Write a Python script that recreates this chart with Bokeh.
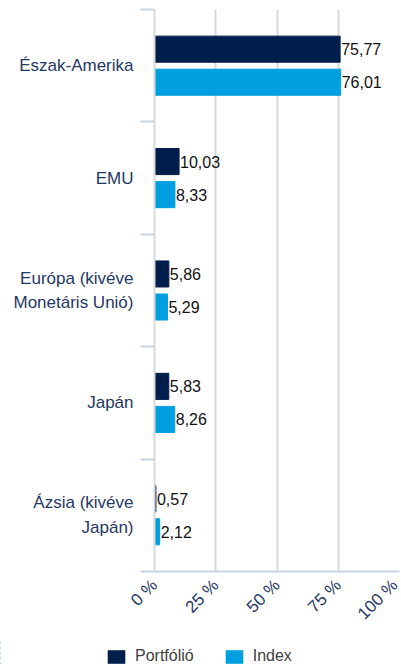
from math import pi
from bokeh.plotting import figure
from bokeh.layouts import column
from bokeh.models import ColumnDataSource, FixedTicker, Legend, LegendItem
from bokeh.transform import dodge
from bokeh.core.properties import value
from bokeh.embed import file_html
from bokeh.resources import INLINE

categories = ["Észak-Amerika", "EMU", "Európa (kivéve\nMonetáris Unió)", "Japán", "Ázsia (kivéve\nJapán)"]
portfolio = [75.77, 10.03, 5.86, 5.83, 0.57]
index_vals = [76.01, 8.33, 5.29, 8.26, 2.12]
series_names = ["Portfólió", "Index"]
x_ticks = [0, 25, 50, 75, 100]
x_tick_labels = ["0 %", "25 %", "50 %", "75 %", "100 %"]

n = len(categories)
pos = [n - 1 - i for i in range(n)]
fmt = lambda v: f"{v:.2f}".replace(".", ",")
src = ColumnDataSource(dict(
    pos=pos, port=portfolio, idx=index_vals,
    port_lbl=[fmt(v) for v in portfolio], idx_lbl=[fmt(v) for v in index_vals],
))

FONT = "Liberation Sans"
NAVY = "#001e4b"
BLUE = "#009fe0"
LABEL = "#1f3864"

p = figure(width=401, height=640, x_range=(0, 100), y_range=(-0.5, n - 0.5),
           output_backend="svg", toolbar_location=None,
           min_border_left=154, min_border_right=2, min_border_top=9, min_border_bottom=69)
p.outline_line_color = None

p.hbar(y=dodge("pos", 0.147), right="port", left=0, height=0.232, source=src, color=NAVY)
p.hbar(y=dodge("pos", -0.147), right="idx", left=0, height=0.232, source=src, color=BLUE)
p.text(x="port", y=dodge("pos", 0.147), text="port_lbl", source=src, x_offset=1,
       text_baseline="middle", text_font=value(FONT), text_font_size="16px", text_color="#111111")
p.text(x="idx", y=dodge("pos", -0.147), text="idx_lbl", source=src, x_offset=1,
       text_baseline="middle", text_font=value(FONT), text_font_size="16px", text_color="#111111")

# x axis
p.xaxis.ticker = FixedTicker(ticks=x_ticks)
p.xaxis.major_label_overrides = {t: l for t, l in zip(x_ticks, x_tick_labels)}
p.xaxis.major_label_orientation = pi / 4
p.xaxis.major_label_text_font = FONT
p.xaxis.major_label_text_font_size = "17px"
p.xaxis.major_label_text_color = LABEL
p.xaxis.axis_line_color = "#c9d3e6"
p.xaxis.axis_line_width = 2
p.xaxis.major_tick_line_color = None
p.xaxis.minor_tick_line_color = None
p.xgrid.grid_line_color = "#d9d9d9"
p.xgrid.grid_line_width = 2
p.ygrid.grid_line_color = None

# y axis
p.yaxis.ticker = FixedTicker(ticks=pos, minor_ticks=[b - 0.5 for b in range(n + 1)])
p.yaxis.major_label_overrides = {pp: c for pp, c in zip(pos, categories)}
p.yaxis.major_label_text_font = FONT
p.yaxis.major_label_text_font_size = "17px"
p.yaxis.major_label_text_line_height = 1.3
p.yaxis.major_label_text_color = LABEL
p.yaxis.major_label_standoff = 7
p.yaxis.major_tick_line_color = None
p.yaxis.major_tick_out = 0
p.yaxis.minor_tick_line_color = "#c9d3e6"
p.yaxis.minor_tick_line_width = 2
p.yaxis.minor_tick_out = 14
p.yaxis.minor_tick_in = 0
p.yaxis.axis_line_color = "#d9d9d9"
p.yaxis.axis_line_width = 2

# legend strip (separate small figure; its bars lie outside its range)
f2 = figure(width=401, height=25, x_range=(1000, 1001), y_range=(-0.5, n - 0.5),
            x_axis_type=None, y_axis_type=None, output_backend="svg", toolbar_location=None,
            min_border=0)
f2.outline_line_color = None
f2.grid.visible = False

legend_x = 0
try:
    p.frame_align = False
    f2.frame_align = False
    legend_x = 105
except AttributeError:
    legend_x = 0

lr1 = f2.hbar(y="pos", right="port", left=0, height=0.2, source=src,
              fill_color=NAVY, line_color=None)
lr2 = f2.hbar(y="pos", right="idx", left=0, height=0.2, source=src,
              fill_color=BLUE, line_color=None)
legend = Legend(items=[LegendItem(label=series_names[0], renderers=[lr1]),
                       LegendItem(label=series_names[1], renderers=[lr2])],
                orientation="horizontal", location=(legend_x, 0),
                label_text_font=FONT, label_text_font_size="16px", label_text_color="#404040",
                label_standoff=8, glyph_width=22, glyph_height=17, spacing=29,
                padding=0, margin=0, border_line_color=None, background_fill_alpha=0)
f2.add_layout(legend, "center")

layout = column(p, f2, spacing=0)
open("out.html", "w").write(file_html(layout, INLINE))
